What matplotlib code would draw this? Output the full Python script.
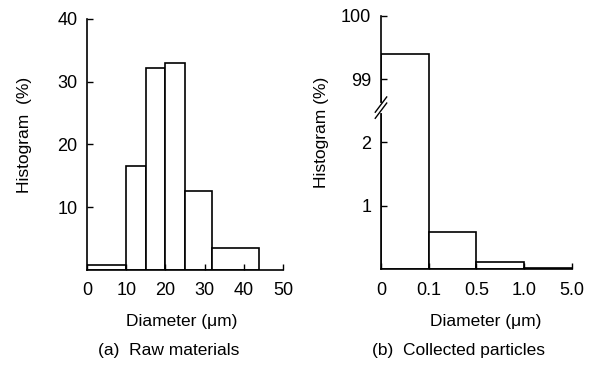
import numpy as np
import matplotlib
matplotlib.use("Agg")
import matplotlib.pyplot as plt

plt.rcParams['font.family'] = ['Liberation Sans', 'DejaVu Sans']
plt.rcParams['font.size'] = 12.5

# (a) raw materials: bin edges (um) and percentages
raw_edges = [0, 10, 15, 20, 25, 32, 44]
raw_pct = [0.8, 16.6, 32.2, 33.0, 12.6, 3.5]

# (b) collected particles: categorical bins
col_ticklabels = ['0', '0.1', '0.5', '1.0', '5.0']
col_pct = [99.4, 0.59, 0.12, 0.02]

LOW_MAX, HIGH_MIN, SHIFT = 2.55, 98.55, 96.0


def fwd(v):
    v = np.asarray(v, dtype=float)
    return np.where(v <= LOW_MAX, v, np.where(v >= HIGH_MIN, v - SHIFT, LOW_MAX))


def inv(t):
    t = np.asarray(t, dtype=float)
    return np.where(t <= LOW_MAX, t, t + SHIFT)


fig = plt.figure(figsize=(5.95, 3.65), dpi=100)
ax1 = fig.add_axes([0.1462, 0.2603, 0.3294, 0.6877])
ax2 = fig.add_axes([0.6403, 0.2622, 0.3205, 0.6948])

lw = 1.2

# left panel
edges = np.array(raw_edges)
ax1.bar(edges[:-1], raw_pct, width=np.diff(edges), align='edge',
        facecolor='white', edgecolor='black', linewidth=lw)
ax1.set_xlim(0, 50)
ax1.set_ylim(0, 40)
ax1.set_xticks([0, 10, 20, 30, 40, 50])
ax1.set_yticks([10, 20, 30, 40])
ax1.set_xlabel('Diameter (\u03bcm)', fontsize=12.5)
ax1.set_ylabel('Histogram  (%)', fontsize=12.5)
ax1.xaxis.set_label_coords(0.482, -0.175)
ax1.yaxis.set_label_coords(-0.28, 0.54)

# right panel with broken axis
ax2.set_yscale('function', functions=(fwd, inv))
xpos = np.arange(len(col_pct))
ax2.bar(xpos, col_pct, width=1.0, align='edge',
        facecolor='white', edgecolor='black', linewidth=lw)
ax2.set_xlim(0, len(col_ticklabels) - 1)
ax2.set_ylim(0, 100)
ax2.set_xticks(np.arange(len(col_ticklabels)))
ax2.set_xticklabels(col_ticklabels)
ax2.set_yticks([1, 2, 99, 100])
ax2.set_yticklabels(['1', '2', '99', '100'])
ax2.minorticks_off()
ax2.set_xlabel('Diameter (\u03bcm)', fontsize=12.5)
ax2.set_ylabel('Histogram (%)', fontsize=12.5)
ax2.xaxis.set_label_coords(0.55, -0.175)
ax2.yaxis.set_label_coords(-0.273, 0.54)

for ax in (ax1, ax2):
    ax.spines['top'].set_visible(False)
    ax.spines['right'].set_visible(False)
    ax.spines['left'].set_linewidth(lw)
    ax.spines['bottom'].set_linewidth(lw)
    ax.tick_params(which='both', direction='in', length=4, width=1.0,
                   labelsize=13)
    ax.tick_params(axis='y', pad=7)
    ax.tick_params(axis='x', pad=9)

# break marks on the y axis
yb = LOW_MAX / 4.0
dx, dy, gap = 0.03, 0.03, 0.012
ax2.plot([0, 0], [yb - gap, yb + gap], transform=ax2.transAxes,
         color='white', lw=3, clip_on=False, zorder=5)
for off in (-gap, gap):
    ax2.plot([-dx, dx], [yb + off - dy, yb + off + dy], transform=ax2.transAxes,
             color='black', lw=1.0, clip_on=False, zorder=6)

fig.text(0.284, 0.041, '(a)  Raw materials', ha='center', va='center',
         fontsize=12.5)
fig.text(0.770, 0.041, '(b)  Collected particles', ha='center', va='center',
         fontsize=12.5)

fig.savefig('out.png', dpi=100)
